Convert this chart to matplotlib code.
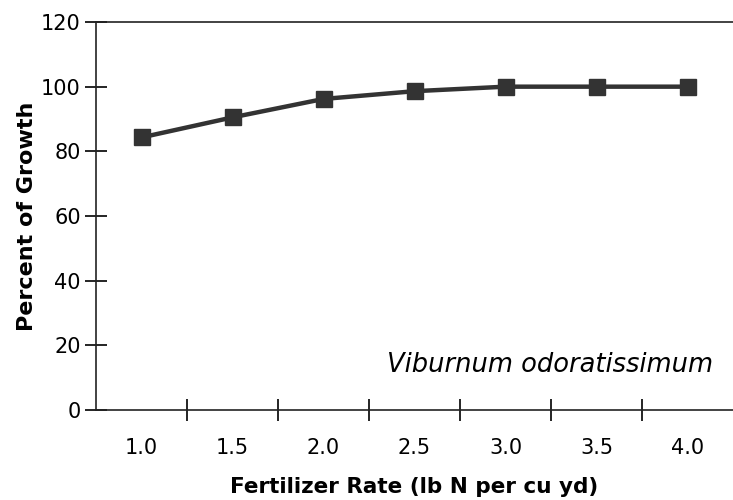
import matplotlib
matplotlib.use("Agg")
import matplotlib.pyplot as plt

rates = ["1.0", "1.5", "2.0", "2.5", "3.0", "3.5", "4.0"]
growth = [84.3, 90.5, 96.2, 98.6, 100.0, 100.0, 100.0]

plt.rcParams['font.family'] = ['DejaVu Sans']

fig = plt.figure(figsize=(7.33, 5.0), dpi=100)
ax = fig.add_axes([96 / 733, 90 / 500, 637 / 733, 388 / 500])

x = list(range(len(rates)))
ax.plot(x, growth, color="#333333", linewidth=3.2, marker="s",
        markersize=12, markerfacecolor="#333333", markeredgecolor="#333333",
        clip_on=False)

ax.set_xlim(-0.5, len(rates) - 0.5)
ax.set_ylim(0, 120)
ax.set_yticks(range(0, 121, 20))
# ticks sit between categories, labels at the centres
ax.set_xticks([i + 0.5 for i in range(len(rates) - 1)])
ax.set_xticklabels([])
ax.set_xticks(x, minor=True)
ax.set_xticklabels(rates, minor=True)

ax.tick_params(axis="y", which="major", direction="inout", length=16, width=1.2,
               labelsize=15, pad=3)
ax.tick_params(axis="x", which="major", direction="inout", length=16, width=1.2)
ax.tick_params(axis="x", which="minor", length=0, labelsize=15, pad=20)

for s in ["left", "bottom", "top"]:
    ax.spines[s].set_linewidth(1.2)
    ax.spines[s].set_color("#222222")
ax.spines["right"].set_visible(False)

ax.set_ylabel("Percent of Growth", fontsize=16, fontweight="bold", labelpad=3)
ax.set_xlabel("Fertilizer Rate (lb N per cu yd)", fontsize=15.5, fontweight="bold",
              labelpad=14)

ax.text(0.969, 0.115, "Viburnum odoratissimum", transform=ax.transAxes,
        fontsize=18.5, style="italic", ha="right", va="center")

fig.savefig("out.png", dpi=100)
